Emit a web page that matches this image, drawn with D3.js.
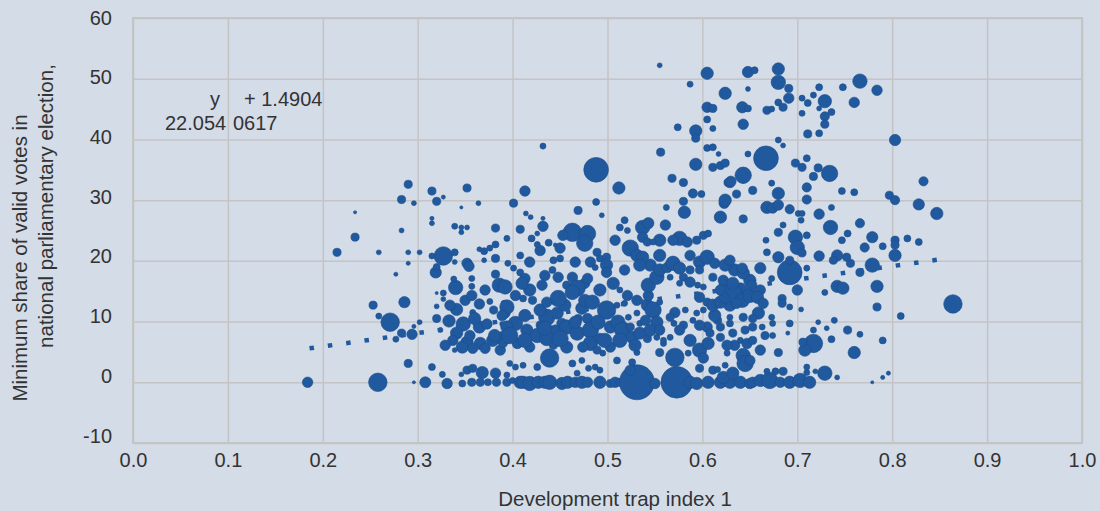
<!DOCTYPE html>
<html>
<head>
<meta charset="utf-8">
<script src="https://cdn.jsdelivr.net/npm/d3@7"></script>
<style>
  body { margin: 0; background: #d4dce8; }
  svg { display: block; font-family: "Liberation Sans", Arial, sans-serif; }
  .grid line { stroke: #c4c4c4; stroke-width: 1.5; }
  .grid path { display: none; }
  .tickLabels path, .tickLabels line { display: none; }
  .tickLabels text { fill: #333; font-size: 20px; }
  .title { fill: #333; font-size: 20.5px; }
</style>
</head>
<body>
<div id="chart"></div>
<script>
// axis ticks
var xTicks = [0, 0.1, 0.2, 0.3, 0.4, 0.5, 0.6, 0.7, 0.8, 0.9, 1.0];
var yTicks = [-10, 0, 10, 20, 30, 40, 50, 60];

// linear trend (from the excel label)
var trendSlope = 22.054;
var trendIntercept = 1.4904;
var trendRange = [0.186, 0.85];

// points: [development trap index, min share of valid votes, weight]
// rows sitting on zero
var zeroRow = [
  [0.184, 0, 9], [0.258, 0, 28], [0.296, 0, 0.8], [0.308, 0, 10], [0.331, -0.2, 9],
  [0.347, -0.2, 4], [0.357, 0, 5.5], [0.366, 0, 5.5], [0.374, 0, 4], [0.383, 0, 5.5],
  [0.394, 0, 5.5], [0.400, 0.3, 3], [0.408, 0, 12.5], [0.411, 0, 12.5], [0.418, -0.2, 17],
  [0.427, 0, 12.5], [0.434, 0, 12.5], [0.439, 0, 17], [0.452, -0.2, 12.5], [0.458, 0, 12.5],
  [0.466, 0, 9], [0.473, 0, 12.5], [0.479, 0, 9], [0.492, 0, 12.5], [0.503, -0.2, 5.5],
  [0.508, 0, 9], [0.513, 0, 5.5], [0.531, 0, 100], [0.550, -0.2, 9], [0.573, 0, 82],
  [0.587, 0, 12.5], [0.594, -0.2, 12.5], [0.606, 0, 12.5], [0.619, 0, 12.5], [0.629, 0, 12.5],
  [0.640, 0, 12.5], [0.650, -0.2, 9], [0.653, 0, 9], [0.661, 0.3, 12.5], [0.671, 0.3, 22],
  [0.682, 0, 9], [0.692, 0, 12.5], [0.703, 0.3, 17], [0.713, 0, 12.5], [0.742, 0.8, 2],
  [0.779, 0, 0.8]
];

// between 0 and 6
var nearZero = [
  [0.290, 3.1, 5.5], [0.315, 2.5, 4], [0.326, 1.3, 3], [0.346, 1.3, 2], [0.352, 2.0, 5.5],
  [0.358, 2.3, 5.5], [0.368, 1.6, 12.5], [0.382, 1.5, 9], [0.394, 1.2, 3], [0.397, 3.1, 3],
  [0.403, 2.5, 3], [0.411, 2.8, 3], [0.426, 2.5, 4], [0.439, 4.0, 28], [0.463, 3.1, 4],
  [0.473, 3.6, 3], [0.468, 1.5, 3], [0.480, 2.3, 3], [0.487, 2.5, 3], [0.492, 2.0, 3],
  [0.495, 4.8, 3], [0.510, 3.6, 4], [0.524, 2.0, 9], [0.526, 3.3, 4], [0.531, 4.9, 3],
  [0.555, 4.9, 5.5], [0.559, 6.4, 3], [0.571, 4.1, 28], [0.585, 4.8, 3], [0.597, 5.3, 17],
  [0.601, 4.0, 9], [0.606, 6.4, 12.5], [0.597, 2.3, 5.5], [0.611, 2.0, 5.5], [0.616, 2.1, 3],
  [0.622, 0.8, 12.5], [0.632, 1.5, 12.5], [0.624, 2.8, 3], [0.626, 4.8, 3], [0.643, 4.4, 17],
  [0.645, 3.1, 22], [0.680, 4.9, 5.5], [0.668, 1.8, 3], [0.677, 1.8, 4], [0.685, 1.8, 5.5],
  [0.710, 2.5, 3], [0.710, 1.6, 3], [0.719, 1.8, 2], [0.729, 1.5, 17], [0.760, 4.9, 12.5],
  [0.790, 0.8, 1.4], [0.796, 1.5, 1.4], [0.634, 6.1, 9], [0.661, 5.3, 9], [0.650, 3.6, 9],
  [0.666, 7.7, 5.5]
];

// between 5 and 13
var lowBand = [
  [0.271, 9.9, 28], [0.283, 8.1, 5.5], [0.277, 7.1, 3], [0.294, 7.9, 9], [0.296, 9.2, 1.4],
  [0.302, 9.9, 2], [0.286, 13.2, 10.5], [0.253, 12.7, 5.5], [0.259, 10.9, 3], [0.320, 10.5, 5.5],
  [0.333, 10.1, 12.5], [0.348, 9.6, 17], [0.365, 9.1, 12.5], [0.373, 9.6, 9], [0.389, 9.6, 2],
  [0.324, 8.6, 2], [0.341, 8.1, 12.5], [0.337, 6.9, 9], [0.352, 6.6, 12.5], [0.366, 6.4, 12.5],
  [0.379, 6.9, 12.5], [0.390, 7.2, 17], [0.347, 5.8, 12.5], [0.358, 5.6, 9], [0.371, 5.6, 9],
  [0.387, 5.3, 9], [0.339, 5.3, 2], [0.320, 12.5, 2], [0.341, 12.0, 12.5], [0.365, 12.9, 9],
  [0.376, 13.3, 3], [0.380, 11.9, 5.5], [0.358, 11.5, 3], [0.391, 13.0, 3], [0.392, 11.4, 9],
  [0.327, 13.7, 2], [0.394, 12.4, 17], [0.389, 11.0, 9], [0.436, 10.7, 22], [0.447, 11.4, 12.5],
  [0.452, 9.7, 9], [0.469, 10.5, 5.5], [0.479, 10.5, 9], [0.473, 12.2, 12.5], [0.499, 11.9, 28],
  [0.510, 12.7, 3], [0.518, 13.0, 3], [0.522, 10.7, 3], [0.531, 11.4, 3], [0.542, 12.7, 12.5],
  [0.548, 11.9, 22], [0.552, 9.9, 12.5], [0.403, 9.7, 17], [0.394, 9.1, 12.5], [0.415, 8.6, 12.5],
  [0.426, 7.7, 17], [0.436, 7.2, 17], [0.429, 9.4, 5.5], [0.445, 8.6, 9], [0.457, 9.1, 17],
  [0.468, 8.1, 17], [0.482, 8.6, 22], [0.482, 6.4, 17], [0.492, 7.2, 9], [0.503, 9.1, 12.5],
  [0.511, 9.9, 17], [0.516, 8.6, 22], [0.526, 7.4, 12.5], [0.524, 9.1, 5.5], [0.534, 8.1, 12.5],
  [0.542, 7.2, 5.5], [0.534, 9.7, 3], [0.552, 7.4, 3], [0.559, 6.9, 3], [0.566, 7.4, 3],
  [0.503, 5.8, 9], [0.489, 5.3, 5.5], [0.474, 5.8, 9], [0.457, 5.8, 12.5], [0.443, 6.1, 5.5],
  [0.418, 5.8, 9], [0.405, 6.4, 9], [0.390, 6.4, 5.5], [0.571, 11.5, 9], [0.566, 10.7, 5.5],
  [0.570, 9.7, 3], [0.582, 11.9, 3], [0.580, 9.4, 5.5], [0.594, 11.4, 3], [0.590, 10.2, 3],
  [0.601, 11.9, 3], [0.616, 10.2, 5.5], [0.605, 9.1, 9], [0.608, 8.1, 5.5], [0.619, 9.1, 5.5],
  [0.629, 10.7, 3], [0.659, 11.4, 12.5], [0.653, 10.5, 5.5], [0.643, 10.7, 5.5], [0.629, 9.7, 4],
  [0.632, 8.1, 5.5], [0.619, 7.4, 5.5], [0.640, 6.9, 3], [0.647, 6.4, 9], [0.653, 6.9, 5.5],
  [0.663, 9.1, 3], [0.674, 9.7, 3], [0.674, 7.7, 3], [0.653, 9.1, 5.5], [0.673, 10.7, 3],
  [0.692, 9.7, 4], [0.690, 8.1, 1.4], [0.704, 12.0, 2], [0.692, 12.4, 3], [0.722, 9.9, 2],
  [0.739, 10.2, 3], [0.731, 8.9, 2], [0.753, 8.6, 5.5], [0.766, 7.9, 3], [0.790, 6.9, 4],
  [0.717, 6.4, 28], [0.708, 5.3, 12.5], [0.706, 6.6, 5.5], [0.717, 8.6, 3], [0.736, 7.1, 4],
  [0.784, 12.4, 5.5], [0.809, 10.9, 4], [0.864, 12.9, 28], [0.684, 13.8, 5.5], [0.684, 13.0, 5.5],
  [0.626, 6.1, 9], [0.645, 8.6, 5.5]
];

// the crowded core, 0.33 to 0.66
var denseCore = [
  [0.397, 7.7, 22], [0.413, 6.9, 17], [0.434, 8.9, 17], [0.450, 7.2, 22], [0.466, 9.9, 12.5],
  [0.490, 9.9, 17], [0.497, 6.9, 17], [0.513, 6.9, 17], [0.529, 6.1, 12.5], [0.545, 8.6, 12.5],
  [0.540, 10.2, 9], [0.555, 8.6, 9], [0.576, 8.6, 9], [0.587, 6.9, 12.5], [0.597, 9.4, 9],
  [0.613, 11.0, 12.5], [0.629, 12.7, 12.5], [0.640, 15.2, 17], [0.624, 16.0, 12.5], [0.634, 18.5, 12.5],
  [0.650, 16.8, 12.5], [0.661, 15.2, 9], [0.597, 19.8, 12.5], [0.587, 20.9, 9], [0.555, 20.9, 12.5],
  [0.545, 19.3, 12.5], [0.518, 18.5, 9], [0.506, 16.3, 12.5], [0.492, 15.2, 12.5], [0.476, 13.5, 12.5],
  [0.455, 12.7, 12.5], [0.429, 11.9, 12.5], [0.413, 11.0, 12.5], [0.403, 14.3, 9], [0.418, 15.2, 12.5],
  [0.434, 17.6, 9], [0.418, 19.8, 9], [0.429, 21.7, 9], [0.450, 22.1, 9], [0.466, 19.8, 9],
  [0.482, 19.8, 9], [0.508, 23.4, 9], [0.555, 23.4, 12.5], [0.561, 25.9, 9], [0.360, 10.5, 12.5],
  [0.350, 13.5, 9], [0.334, 12.7, 9], [0.371, 15.2, 9], [0.381, 7.7, 12.5], [0.355, 7.7, 9],
  [0.329, 6.1, 9]
];

// between 13 and 27
var midBand = [
  [0.215, 21.4, 5.5], [0.234, 23.9, 5.5], [0.234, 28.0, 0.8], [0.259, 21.4, 2], [0.290, 21.4, 2],
  [0.302, 21.4, 2], [0.290, 19.6, 1.4], [0.277, 17.8, 1.4], [0.283, 25.0, 2], [0.327, 20.8, 28],
  [0.315, 20.8, 3], [0.339, 21.4, 4], [0.339, 19.8, 2], [0.319, 18.1, 10.5], [0.320, 19.0, 4],
  [0.352, 19.6, 9], [0.354, 19.1, 9], [0.365, 21.9, 2], [0.370, 21.6, 4], [0.376, 22.1, 3],
  [0.382, 22.7, 4], [0.370, 20.1, 2], [0.382, 20.4, 5.5], [0.357, 17.1, 3], [0.357, 15.8, 3],
  [0.340, 15.6, 17], [0.338, 17.0, 3], [0.357, 14.3, 9], [0.382, 17.8, 5.5], [0.386, 16.0, 17],
  [0.327, 14.7, 3], [0.320, 14.7, 0.8], [0.394, 23.7, 3], [0.346, 25.5, 2], [0.346, 24.7, 2],
  [0.352, 25.5, 2], [0.339, 25.7, 3], [0.382, 25.4, 5.5], [0.408, 25.2, 5.5], [0.315, 27.0, 1.4],
  [0.315, 26.2, 2], [0.432, 25.7, 9], [0.420, 23.7, 4], [0.426, 24.5, 2], [0.426, 22.7, 3],
  [0.438, 23.0, 4], [0.445, 22.6, 1.4], [0.463, 24.7, 28], [0.479, 24.5, 22], [0.476, 22.9, 22],
  [0.453, 24.2, 9], [0.518, 26.7, 4], [0.513, 25.5, 4], [0.521, 25.0, 3], [0.537, 25.5, 17],
  [0.543, 26.2, 10.5], [0.537, 23.9, 9], [0.542, 23.1, 5.5], [0.548, 23.1, 3], [0.524, 22.1, 22],
  [0.531, 20.9, 12.5], [0.537, 20.6, 12.5], [0.534, 19.3, 12.5], [0.576, 23.7, 17], [0.569, 23.4, 9],
  [0.584, 23.1, 9], [0.594, 23.4, 5.5], [0.601, 24.2, 5.5], [0.606, 24.5, 4], [0.489, 21.4, 5.5],
  [0.492, 20.4, 4], [0.499, 20.6, 5.5], [0.499, 19.3, 12.5], [0.499, 18.1, 9], [0.487, 18.9, 3],
  [0.395, 19.6, 3], [0.408, 20.9, 4], [0.401, 18.8, 3], [0.408, 18.1, 4], [0.413, 17.1, 9],
  [0.410, 16.3, 12.5], [0.392, 15.7, 17], [0.431, 16.0, 9], [0.443, 20.1, 4], [0.450, 20.4, 4],
  [0.442, 18.5, 4], [0.448, 17.3, 9], [0.463, 17.3, 9], [0.457, 16.0, 5.5], [0.476, 16.3, 9],
  [0.479, 17.1, 9], [0.468, 15.5, 22], [0.448, 13.8, 22], [0.463, 14.8, 17], [0.436, 13.2, 9],
  [0.421, 13.5, 5.5], [0.411, 13.8, 4], [0.484, 13.2, 17], [0.521, 14.3, 9], [0.513, 15.2, 3],
  [0.531, 13.5, 9], [0.543, 14.3, 9], [0.555, 13.2, 3], [0.543, 16.0, 17], [0.552, 17.3, 17],
  [0.555, 18.5, 12.5], [0.563, 18.9, 9], [0.569, 19.6, 17], [0.576, 18.8, 12.5], [0.587, 18.5, 5.5],
  [0.580, 17.3, 5.5], [0.566, 17.3, 3], [0.587, 16.5, 9], [0.576, 16.3, 3], [0.597, 14.0, 9],
  [0.605, 13.2, 5.5], [0.611, 12.7, 12.5], [0.619, 13.2, 12.5], [0.601, 15.7, 3], [0.597, 18.5, 5.5],
  [0.605, 20.6, 17], [0.613, 19.6, 9], [0.624, 19.3, 12.5], [0.611, 17.3, 5.5], [0.622, 16.8, 9],
  [0.595, 16.0, 3], [0.624, 14.0, 12.5], [0.634, 14.8, 17], [0.642, 13.5, 17], [0.650, 14.3, 17],
  [0.658, 14.0, 12.5], [0.664, 13.0, 9], [0.636, 13.0, 9], [0.632, 16.3, 12.5], [0.643, 18.0, 12.5],
  [0.652, 16.0, 9], [0.629, 20.1, 9], [0.642, 18.8, 9], [0.661, 18.8, 10.5], [0.673, 17.1, 3],
  [0.692, 18.1, 50], [0.692, 20.1, 5.5], [0.710, 18.8, 3], [0.680, 20.6, 10.5], [0.668, 21.4, 4],
  [0.667, 23.4, 3], [0.700, 15.2, 9], [0.742, 15.8, 12.5], [0.748, 15.5, 12.5], [0.729, 14.8, 3],
  [0.784, 15.8, 12.5], [0.698, 23.9, 17], [0.700, 22.2, 17], [0.705, 21.3, 5.5], [0.710, 24.2, 4],
  [0.723, 20.8, 9], [0.735, 25.5, 17], [0.766, 26.2, 7], [0.753, 24.5, 4], [0.747, 23.4, 4],
  [0.779, 23.9, 10.5], [0.790, 22.4, 4], [0.803, 23.4, 5.5], [0.803, 22.6, 5.5], [0.816, 23.7, 4],
  [0.828, 23.1, 4], [0.771, 22.2, 7], [0.803, 20.9, 12.5], [0.779, 19.3, 17], [0.766, 18.1, 5.5],
  [0.756, 19.6, 5.5], [0.752, 20.6, 5.5], [0.742, 20.9, 10.5], [0.738, 20.1, 5.5], [0.680, 24.7, 5.5],
  [0.685, 25.9, 3], [0.704, 26.7, 3], [0.643, 26.9, 5.5], [0.619, 15.2, 9]
];

// above 27
var highBand = [
  [0.290, 32.6, 5.5], [0.283, 30.1, 5.5], [0.296, 29.5, 2], [0.315, 31.5, 5.5], [0.320, 29.8, 5.5],
  [0.327, 30.5, 1.4], [0.352, 32.0, 5.5], [0.346, 28.8, 0.8], [0.364, 29.5, 2], [0.401, 29.5, 5.5],
  [0.413, 31.5, 9], [0.432, 38.9, 3], [0.488, 35.0, 50], [0.512, 32.0, 12.5], [0.568, 33.6, 5.5],
  [0.580, 32.9, 5.5], [0.590, 31.1, 7], [0.599, 31.0, 4], [0.580, 29.8, 5.5], [0.581, 28.0, 12.5],
  [0.562, 28.8, 3], [0.619, 27.2, 12.5], [0.623, 29.5, 9], [0.627, 32.9, 5.5], [0.469, 28.3, 5.5],
  [0.488, 29.7, 4], [0.494, 27.5, 2], [0.414, 27.8, 2], [0.419, 27.2, 2], [0.432, 27.0, 1.4],
  [0.734, 34.4, 22], [0.717, 33.9, 5.5], [0.747, 31.5, 4], [0.760, 31.3, 4], [0.833, 33.1, 7],
  [0.797, 30.8, 5.5], [0.803, 30.0, 7], [0.828, 29.3, 10.5], [0.847, 27.8, 12.5], [0.710, 32.1, 7],
  [0.710, 30.1, 7], [0.680, 31.1, 12.5], [0.673, 32.8, 3], [0.653, 31.6, 5.5], [0.643, 33.8, 12.5],
  [0.629, 32.9, 9], [0.624, 30.0, 12.5], [0.636, 31.0, 5.5], [0.668, 28.8, 12.5], [0.674, 28.7, 9],
  [0.680, 29.2, 9], [0.692, 28.5, 7], [0.701, 27.8, 3], [0.705, 27.8, 3], [0.723, 27.7, 9],
  [0.736, 28.8, 3], [0.555, 52.2, 2], [0.605, 50.9, 12.5], [0.648, 51.1, 10.5], [0.655, 51.4, 4],
  [0.587, 49.1, 3], [0.624, 47.6, 12.5], [0.648, 48.3, 2], [0.668, 44.8, 5.5], [0.605, 45.3, 9],
  [0.611, 45.1, 5.5], [0.642, 45.3, 10.5], [0.648, 45.1, 4], [0.605, 43.3, 4], [0.611, 41.8, 3],
  [0.643, 42.5, 9], [0.574, 42.0, 4], [0.593, 41.4, 12.5], [0.593, 40.2, 5.5], [0.556, 37.9, 5.5],
  [0.605, 38.6, 4], [0.611, 38.7, 4], [0.617, 37.6, 2], [0.593, 35.9, 12.5], [0.611, 35.4, 5.5],
  [0.619, 35.7, 5.5], [0.624, 36.1, 5.5], [0.648, 37.6, 3], [0.667, 36.9, 50], [0.643, 34.1, 22],
  [0.630, 33.1, 9], [0.680, 51.6, 12.5], [0.680, 49.4, 17], [0.691, 48.4, 5.5], [0.723, 48.6, 4],
  [0.748, 48.6, 4], [0.766, 49.6, 17], [0.784, 48.1, 9], [0.760, 46.1, 9], [0.691, 46.8, 9],
  [0.705, 46.8, 3], [0.717, 47.3, 3], [0.729, 46.3, 14.6], [0.711, 46.0, 4], [0.680, 46.1, 4],
  [0.685, 45.3, 5.5], [0.673, 45.0, 3], [0.705, 44.3, 3], [0.723, 45.1, 2], [0.729, 43.8, 7],
  [0.736, 44.5, 4], [0.729, 42.5, 5.5], [0.711, 40.9, 5.5], [0.723, 41.0, 4], [0.803, 39.9, 10.5],
  [0.680, 39.9, 3], [0.685, 39.0, 2], [0.710, 36.9, 4], [0.698, 36.1, 5.5], [0.705, 35.4, 5.5],
  [0.722, 35.3, 5.5]
];

var allPoints = zeroRow.concat(nearZero, lowBand, denseCore, midBand, highBand);

var width = 1100;
var height = 511;

// plot box
var plotLeft = 133, plotRight = 1082, plotTop = 18, plotBottom = 443;

var svg = d3.select("#chart")
  .append("svg")
  .attr("width", width)
  .attr("height", height);

var xScale = d3.scaleLinear().domain([0, 1]).range([plotLeft, plotRight]);
var yScale = d3.scaleLinear().domain([-10, 60]).range([plotBottom, plotTop]);
// the y labels in the original sit a little tighter than the grid
var yLabelScale = d3.scaleLinear().domain([-10, 60]).range([435, 17]);
var rScale = d3.scaleSqrt().domain([0, 100]).range([0, 17.5]);

// gridlines
svg.append("g")
  .attr("class", "grid")
  .attr("transform", "translate(0," + plotBottom + ")")
  .call(d3.axisBottom(xScale).tickValues(xTicks).tickSize(-(plotBottom - plotTop)).tickFormat(""));

svg.append("g")
  .attr("class", "grid")
  .attr("transform", "translate(" + plotLeft + ",0)")
  .call(d3.axisLeft(yScale).tickValues(yTicks).tickSize(-(plotRight - plotLeft)).tickFormat(""));

// frame is a bit heavier
svg.append("rect")
  .attr("x", plotLeft)
  .attr("y", plotTop)
  .attr("width", plotRight - plotLeft)
  .attr("height", plotBottom - plotTop)
  .attr("fill", "none")
  .attr("stroke", "#c4c4c4")
  .attr("stroke-width", 2);

// tick labels
svg.append("g")
  .attr("class", "tickLabels")
  .attr("transform", "translate(0,467)")
  .call(d3.axisBottom(xScale).tickValues(xTicks).tickSize(0).tickPadding(0).tickFormat(d3.format(".1f")))
  .selectAll("text")
  .attr("y", 0)
  .attr("dy", 0);

svg.append("g")
  .attr("class", "tickLabels")
  .attr("transform", "translate(112,0)")
  .call(d3.axisLeft(yLabelScale).tickValues(yTicks).tickSize(0).tickPadding(0)
    .tickFormat(function(d) { return String(d); }))
  .selectAll("text")
  .attr("dy", "0.35em");

// bubbles
svg.append("g")
  .selectAll("circle")
  .data(allPoints)
  .enter()
  .append("circle")
  .attr("cx", function(d) { return xScale(d[0]); })
  .attr("cy", function(d) { return yScale(d[1]); })
  .attr("r", function(d) { return rScale(d[2]); })
  .attr("fill", "#20599d")
  .attr("stroke", "#1b4e8c")
  .attr("stroke-width", 0.6);

// dotted trendline
var trendLine = d3.line()
  .x(function(d) { return xScale(d); })
  .y(function(d) { return yScale(trendSlope * d + trendIntercept); });

svg.append("path")
  .datum(trendRange)
  .attr("d", trendLine)
  .attr("fill", "none")
  .attr("stroke", "#20599d")
  .attr("stroke-width", 4.5)
  .attr("stroke-dasharray", "4.5,14");

// equation label, as it appears in the source
var eq = svg.append("g").attr("class", "title").style("font-size", "20px");
eq.append("text").attr("x", 220).attr("y", 106).attr("text-anchor", "end").text("y");
eq.append("text").attr("x", 244).attr("y", 106).text("+ 1.4904");
eq.append("text").attr("x", 165).attr("y", 130).text("22.054");
eq.append("text").attr("x", 233).attr("y", 130).text("0617");

// axis titles
svg.append("text")
  .attr("class", "title")
  .attr("x", 615)
  .attr("y", 506)
  .attr("text-anchor", "middle")
  .text("Development trap index 1");

svg.append("text")
  .attr("class", "title")
  .attr("transform", "translate(27,258)rotate(-90)")
  .attr("text-anchor", "middle")
  .text("Minimum share of valid votes in");

svg.append("text")
  .attr("class", "title")
  .attr("transform", "translate(53,206)rotate(-90)")
  .attr("text-anchor", "middle")
  .text("national parliamentary election,");
</script>
</body>
</html>
